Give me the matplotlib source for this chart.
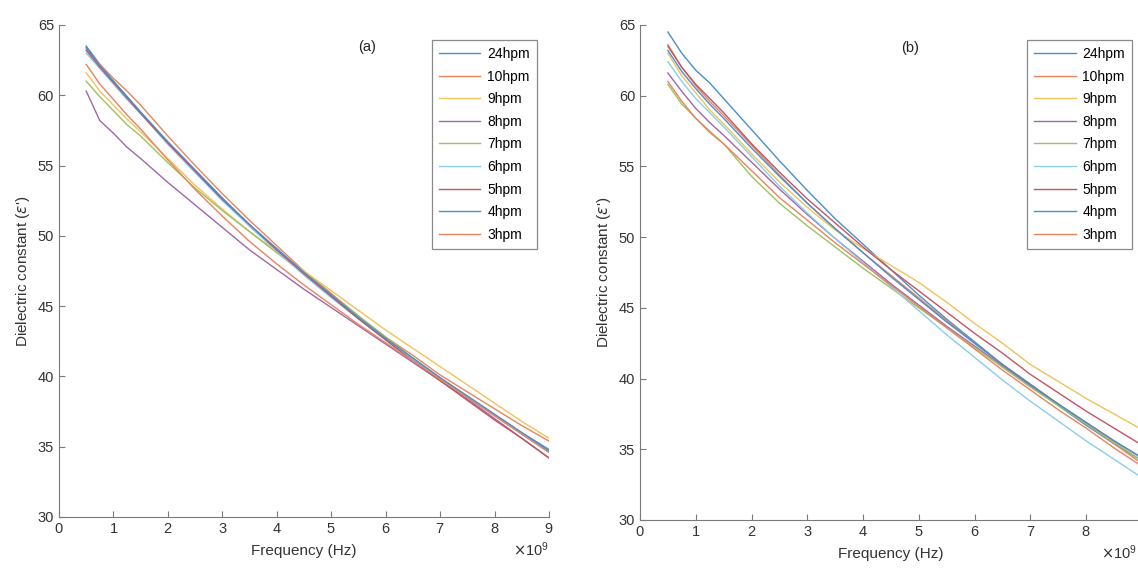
import numpy as np
import matplotlib
matplotlib.use('Agg')
import matplotlib.pyplot as plt
from matplotlib.ticker import ScalarFormatter

plt.rcParams['font.family'] = ['Liberation Sans', 'DejaVu Sans']
plt.rcParams['mathtext.fontset'] = 'dejavusans'

# frecuencias (Hz)
freq = np.array([0.5, 0.75, 1.0, 1.25, 1.5, 2.0, 2.5, 3.0, 3.5, 4.0, 4.5,
                 5.0, 5.5, 6.0, 6.5, 7.0, 7.5, 8.0, 8.5, 9.0]) * 1e9

labels = ['24hpm', '10hpm', '9hpm', '8hpm', '7hpm', '6hpm', '5hpm', '4hpm', '3hpm']
colores = ['#4a8fca', '#e8845e', '#f2c25c', '#a266aa', '#9fc160', '#8acdee',
           '#c25565', '#4a8fca', '#e8845e']

# panel (a)
a_24 = [63.5, 62.2, 61.0, 59.9, 58.8, 56.6, 54.6, 52.6, 50.7, 49.0, 47.3, 45.7, 44.2, 42.7, 41.3, 39.9, 38.6, 37.3, 36.0, 34.8]
a_10 = [63.3, 62.2, 61.2, 60.3, 59.3, 57.1, 55.0, 53.0, 51.1, 49.3, 47.5, 45.9, 44.3, 42.8, 41.5, 40.1, 38.9, 37.7, 36.5, 35.4]
a_9 = [61.6, 60.3, 59.3, 58.3, 57.4, 55.5, 53.6, 51.9, 50.3, 48.9, 47.5, 46.1, 44.7, 43.3, 42.0, 40.7, 39.4, 38.1, 36.8, 35.6]
a_8 = [60.3, 58.2, 57.3, 56.3, 55.5, 53.8, 52.2, 50.6, 49.0, 47.6, 46.2, 44.9, 43.6, 42.3, 41.0, 39.7, 38.4, 37.0, 35.6, 34.2]
a_7 = [61.0, 59.9, 58.9, 57.9, 57.1, 55.2, 53.4, 51.8, 50.3, 48.8, 47.3, 45.8, 44.3, 42.8, 41.3, 39.9, 38.5, 37.2, 35.9, 34.6]
a_6 = [63.0, 61.9, 60.8, 59.7, 58.7, 56.5, 54.5, 52.5, 50.7, 48.9, 47.2, 45.6, 44.1, 42.6, 41.2, 39.8, 38.5, 37.2, 35.9, 34.6]
a_5 = [63.2, 62.0, 60.9, 59.8, 58.7, 56.6, 54.6, 52.6, 50.8, 49.0, 47.3, 45.7, 44.1, 42.6, 41.1, 39.7, 38.3, 36.9, 35.6, 34.2]
a_4 = [63.4, 62.1, 61.0, 59.9, 58.8, 56.7, 54.7, 52.7, 50.8, 49.1, 47.4, 45.8, 44.2, 42.7, 41.3, 39.9, 38.6, 37.3, 36.0, 34.7]
a_3 = [62.2, 60.8, 59.7, 58.6, 57.6, 55.4, 53.3, 51.4, 49.6, 48.0, 46.5, 45.1, 43.7, 42.4, 41.1, 39.8, 38.5, 37.2, 35.9, 34.6]

# panel (b)
b_24 = [64.5, 63.0, 61.8, 60.9, 59.8, 57.6, 55.4, 53.3, 51.3, 49.5, 47.7, 45.9, 44.2, 42.6, 41.0, 39.5, 38.1, 36.7, 35.4, 34.2]
b_10 = [63.6, 62.0, 60.7, 59.6, 58.6, 56.5, 54.4, 52.4, 50.6, 48.9, 47.3, 45.7, 44.1, 42.5, 41.0, 39.6, 38.2, 36.8, 35.4, 34.0]
b_9 = [63.0, 61.4, 60.2, 59.0, 58.0, 55.9, 53.9, 52.1, 50.5, 49.2, 48.0, 46.8, 45.4, 43.9, 42.5, 41.0, 39.8, 38.6, 37.5, 36.4]
b_8 = [61.6, 60.3, 59.1, 58.1, 57.2, 55.3, 53.4, 51.6, 49.9, 48.3, 46.7, 45.2, 43.7, 42.3, 40.9, 39.5, 38.2, 36.9, 35.6, 34.4]
b_7 = [60.8, 59.4, 58.4, 57.5, 56.6, 54.3, 52.4, 50.8, 49.3, 47.8, 46.4, 45.0, 43.6, 42.2, 40.8, 39.4, 38.1, 36.8, 35.5, 34.2]
b_6 = [62.4, 61.0, 59.8, 58.8, 57.8, 55.7, 53.6, 51.7, 49.9, 48.2, 46.5, 44.8, 43.1, 41.5, 39.9, 38.4, 37.0, 35.6, 34.3, 33.0]
b_5 = [63.5, 62.0, 60.8, 59.8, 58.8, 56.6, 54.6, 52.7, 51.0, 49.3, 47.7, 46.2, 44.7, 43.2, 41.8, 40.3, 39.0, 37.7, 36.5, 35.3]
b_4 = [63.2, 61.7, 60.5, 59.4, 58.4, 56.3, 54.3, 52.4, 50.6, 48.9, 47.2, 45.6, 44.0, 42.5, 41.0, 39.6, 38.2, 36.9, 35.6, 34.4]
b_3 = [61.0, 59.6, 58.4, 57.4, 56.6, 54.7, 52.8, 51.2, 49.6, 48.1, 46.6, 45.1, 43.6, 42.1, 40.6, 39.2, 37.8, 36.5, 35.1, 33.8]

series_a = [a_24, a_10, a_9, a_8, a_7, a_6, a_5, a_4, a_3]
series_b = [b_24, b_10, b_9, b_8, b_7, b_6, b_5, b_4, b_3]

fig = plt.figure(figsize=(11.38, 5.75), dpi=100)
ax1 = fig.add_axes([0.0518, 0.1009, 0.4306, 0.8557])
ax2 = fig.add_axes([0.5624, 0.0957, 0.4409, 0.8609])


def dibujar(ax, series, letra, xletra, leg_x, leg_y, nticks):
    for s, lab, c in zip(series, labels, colores):
        ax.plot(freq, s, color=c, lw=1.0, label=lab)
    ax.set_xlim(0, 9e9)
    ax.set_ylim(30, 65)
    ax.set_xticks(np.arange(0, nticks) * 1e9)
    ax.set_yticks(np.arange(30, 66, 5))
    fmt = ScalarFormatter(useMathText=True)
    fmt.set_powerlimits((9, 9))
    ax.xaxis.set_major_formatter(fmt)
    for lado in ['top', 'right']:
        ax.spines[lado].set_visible(False)
    for lado in ['left', 'bottom']:
        ax.spines[lado].set_color('#7a7a7a')
    ax.tick_params(direction='in', length=4, color='#7a7a7a', labelsize=10.5,
                   labelcolor='#333333')
    ax.xaxis.get_offset_text().set_fontsize(10.5)
    ax.xaxis.get_offset_text().set_color('#333333')
    ax.set_xlabel('Frequency (Hz)', fontsize=11, color='#333333', labelpad=6)
    ax.set_ylabel("Dielectric constant ($\\epsilon$')", fontsize=11, color='#333333', labelpad=4)
    ax.text(xletra, 63.4, letra, fontsize=10.5, ha='center', va='center', color='#222222')
    leg = ax.legend(loc='upper right', bbox_to_anchor=(leg_x, leg_y), fontsize=10,
                    labelspacing=0.62, handlelength=3.0, handletextpad=0.5,
                    borderpad=0.5, borderaxespad=0, fancybox=False, framealpha=1,
                    edgecolor='#8a8a8a')
    leg.get_frame().set_linewidth(0.9)


dibujar(ax1, series_a, '(a)', 5.66e9, 0.9755, 0.9695, 10)
dibujar(ax2, series_b, '(b)', 4.84e9, 0.9806, 0.9697, 9)
# el panel (b) queda cortado por la derecha, como en la figura original
ax2.xaxis.get_offset_text().set_x(0.99)

plt.savefig('out.png', dpi=100)
